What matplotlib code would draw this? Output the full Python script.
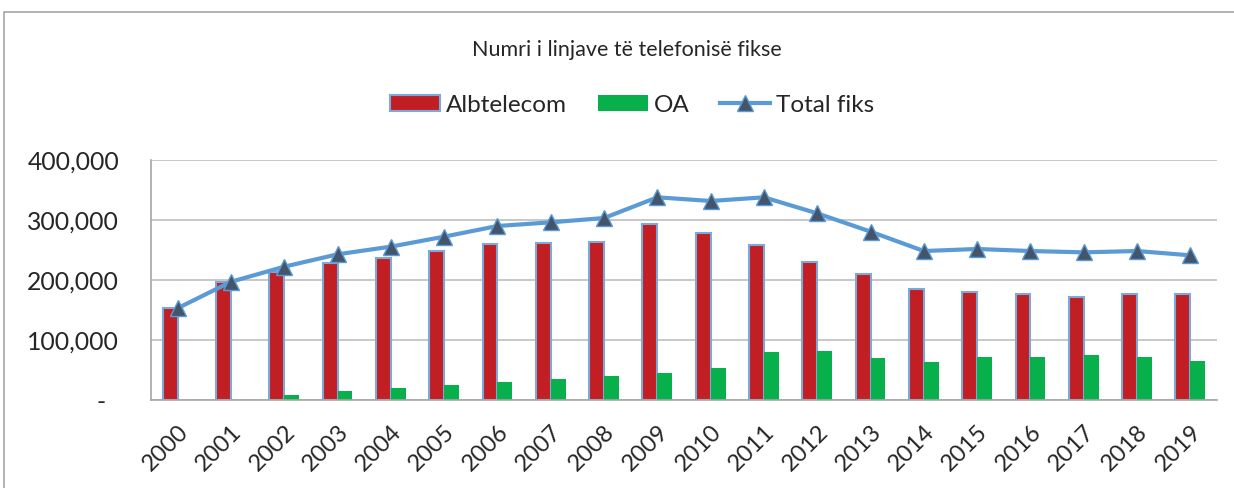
import matplotlib
matplotlib.use("Agg")
import matplotlib.pyplot as plt
import numpy as np
from matplotlib.patches import Rectangle, Patch
from matplotlib.lines import Line2D

years = [str(y) for y in range(2000, 2020)]
albtelecom = [152800, 197200, 212800, 228900, 236100, 248300, 259400, 261100, 263900, 292800,
              277800, 258300, 230600, 210000, 185000, 180000, 176100, 171100, 176100, 176100]
oa = [0, 0, 8300, 15000, 19400, 24400, 29400, 34400, 39400, 44400,
      53300, 80000, 81100, 70600, 62800, 71700, 71700, 75000, 71100, 65600]
total = [153000, 197000, 222200, 242800, 255600, 272200, 290000, 296100, 303300, 337800,
         331700, 337800, 311100, 280600, 248300, 251700, 248300, 246100, 248300, 241100]
yticks = [0, 100000, 200000, 300000, 400000]
ytick_labels = ["-  ", "100,000", "200,000", "300,000", "400,000"]

plt.rcParams['font.family'] = ['Lato', 'DejaVu Sans']

W, H = 1234, 488
fig = plt.figure(figsize=(W / 100, H / 100), dpi=100)
fig.patch.set_facecolor('white')

# outer chart border
fig.add_artist(Rectangle((4 / W, -0.1), 1.2, (H - 12) / H + 0.1, transform=fig.transFigure,
                         fill=False, edgecolor='#A6A6A6', linewidth=1.2))

ax = fig.add_axes([151 / W, 1 - 400 / H, (1217 - 151) / W, (400 - 160) / H])
x = np.arange(len(years))
bw = 0.28
red = '#C11F24'
green = '#08B04B'
blue = '#5B9BD5'
ax.bar(x - bw / 2, albtelecom, width=bw, color=red, edgecolor='#7AA9DA', linewidth=1.5, zorder=2)
ax.bar(x + bw / 2, oa, width=bw, color=green, edgecolor='none', zorder=2)
ax.plot(x, total, color=blue, linewidth=3.0, marker='^', markersize=11.5,
        markerfacecolor='#44546A', markeredgecolor=blue, markeredgewidth=1.0, zorder=3)

ax.set_xlim(-0.5, len(years) - 0.5)
ax.set_ylim(0, 400000)
ax.set_yticks(yticks)
ax.set_yticklabels(ytick_labels)
ax.yaxis.grid(True, color='#BFBFBF', linewidth=1.2, zorder=0)
ax.set_axisbelow(True)
for s in ['top', 'right']:
    ax.spines[s].set_visible(False)
ax.spines['left'].set_color('#A6A6A6')
ax.spines['bottom'].set_color('#A6A6A6')
ax.spines['left'].set_linewidth(1.2)
ax.spines['bottom'].set_linewidth(1.2)
ax.tick_params(axis='y', length=0, pad=23, labelsize=17.8, labelcolor='#262626')
ax.tick_params(axis='x', length=0, pad=15, labelsize=17, labelcolor='#262626')
ax.set_xticks(x)
ax.set_xticklabels(years, rotation=45, ha='right', rotation_mode='anchor')

fig.text(626.5 / W, 1 - 50 / H, "Numri i linjave të telefonisë fikse", ha='center', va='center',
         fontsize=15.5, color='#262626')

handles = [Patch(facecolor=red, edgecolor='#7AA9DA', linewidth=1.5),
           Patch(facecolor=green, edgecolor='none'),
           Line2D([0], [0], color=blue, linewidth=3, marker='^', markersize=11,
                  markerfacecolor='#44546A', markeredgecolor=blue)]
fig.legend(handles, ["Albtelecom", "OA", "Total fiks"], loc='center', ncol=3,
           bbox_to_anchor=(632 / W, 1 - 105 / H), frameon=False, fontsize=17.5,
           handlelength=2.05, handleheight=0.6, handletextpad=0.24, columnspacing=1.28,
           labelcolor='#262626')

fig.savefig("out.png", dpi=100, facecolor='white')
